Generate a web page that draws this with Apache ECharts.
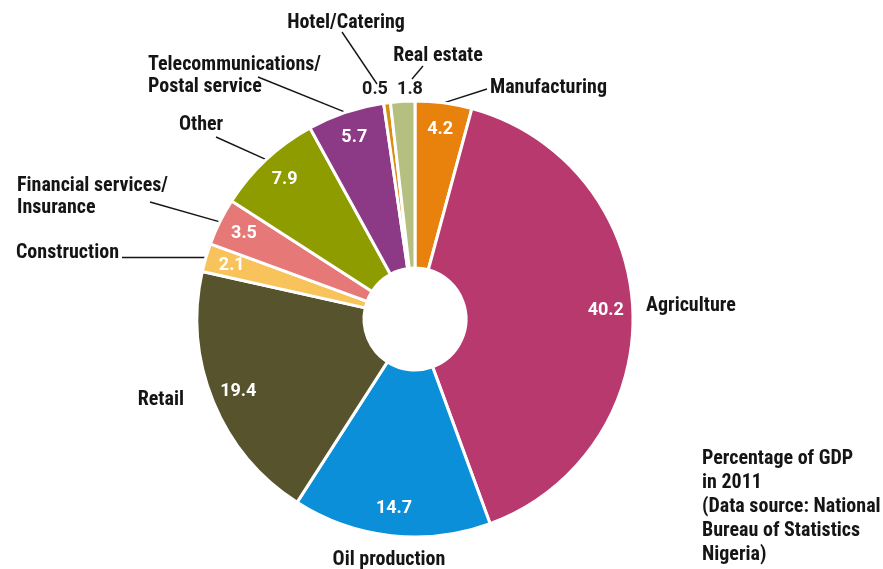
<!DOCTYPE html>
<html>
<head>
<meta charset="utf-8">
<script src="https://cdn.jsdelivr.net/npm/echarts@6/dist/echarts.min.js"></script>
<style>
  html, body { margin: 0; padding: 0; background: #fff; }
  #chart { width: 883px; height: 569px; }
</style>
</head>
<body>
<div id="chart"></div>
<script>
// 数据 —— 2011 年尼日利亚 GDP 构成（%）
const sectors = [
  'Manufacturing', 'Agriculture', 'Oil production', 'Retail', 'Construction',
  'Financial services/\nInsurance', 'Other', 'Telecommunications/\nPostal service',
  'Hotel/Catering', 'Real estate'
];
const shares = [4.2, 40.2, 14.7, 19.4, 2.1, 3.5, 7.9, 5.7, 0.5, 1.8];
const sectorColors = [
  '#e8820c', '#b8396e', '#0a8fd8', '#57532d', '#f8c35b',
  '#e67978', '#8f9c00', '#8c3a86', '#d98e12', '#b5bf7f'
];
const note = 'Percentage of GDP\nin 2011\n(Data source: National\nBureau of Statistics\nNigeria)';

// 名称标签位置：[x, y, align, 引线起点]
const nameLabelPos = [
  [490, 88, 'left', [487, 89]],
  [646, 306, 'left', null],
  [389, 560, 'center', null],
  [184, 400, 'right', null],
  [119, 253, 'right', 'h'],
  [17, 197, 'left', [150, 202]],
  [179, 125, 'left', [216, 137]],
  [148, 76, 'left', [258, 77]],
  [346, 23, 'center', [[342, 32], [377, 84]]],
  [438, 56, 'center', [[423, 66], [412, 79]]]
];
// 外侧数值标签（小扇区）
const outsideValuePos = { 8: [375, 89], 9: [410, 89] };

const NAME_FONT = '"Roboto Condensed", "Liberation Sans Narrow", Lato, sans-serif';
const VALUE_FONT = 'Roboto, "Noto Sans", sans-serif';
const CENTER = [415, 319];

const chart = echarts.init(document.getElementById('chart'));

const nameData = sectors.map((name, i) => ({
  name,
  value: shares[i],
  itemStyle: { color: sectorColors[i] },
  labelLine: { show: nameLabelPos[i][3] !== null }
}));

const valueData = sectors.map((name, i) => ({
  name,
  value: shares[i],
  label: outsideValuePos[i]
    ? { position: 'outside', color: '#1a1a1a' }
    : { position: 'inside', color: '#fff' },
  labelLine: { show: false }
}));

chart.setOption({
  backgroundColor: '#fff',
  animation: false,
  title: {
    text: note,
    left: 702,
    top: 447,
    padding: 0,
    textStyle: {
      fontFamily: NAME_FONT,
      fontSize: 20,
      fontWeight: 'bold',
      color: '#151515',
      lineHeight: 24
    }
  },
  series: [
    {
      type: 'pie',
      center: CENTER,
      radius: [51, 218],
      startAngle: 90,
      clockwise: true,
      silent: true,
      avoidLabelOverlap: false,
      itemStyle: { borderColor: '#fff', borderWidth: 3 },
      label: {
        show: true,
        position: 'outside',
        formatter: '{b}',
        fontFamily: NAME_FONT,
        fontSize: 20,
        fontWeight: 'bold',
        color: '#151515',
        lineHeight: 22
      },
      labelLine: {
        show: true,
        length: 10,
        length2: 0,
        lineStyle: { color: '#151515', width: 1.4 }
      },
      labelLayout: (params) => {
        const pos = nameLabelPos[params.dataIndex];
        const out = { x: pos[0], y: pos[1], align: pos[2], verticalAlign: 'middle' };
        const edge = params.labelLinePoints ? params.labelLinePoints[0] : null;
        if (pos[3] === 'h' && edge) {
          out.labelLinePoints = [[pos[0] + 3, edge[1]], edge];
        } else if (Array.isArray(pos[3]) && Array.isArray(pos[3][0])) {
          out.labelLinePoints = pos[3];
        } else if (Array.isArray(pos[3]) && edge) {
          out.labelLinePoints = [pos[3], edge];
        }
        return out;
      },
      data: nameData
    },
    {
      type: 'pie',
      center: CENTER,
      radius: [158, 218],
      startAngle: 90,
      clockwise: true,
      silent: true,
      avoidLabelOverlap: false,
      itemStyle: { color: 'rgba(0,0,0,0)', borderWidth: 0 },
      label: {
        show: true,
        formatter: (p) => p.value.toFixed(1),
        fontFamily: VALUE_FONT,
        fontSize: 18,
        fontWeight: 'bold'
      },
      labelLayout: (params) => {
        const pos = outsideValuePos[params.dataIndex];
        if (!pos) return {};
        return { x: pos[0], y: pos[1], align: 'center', verticalAlign: 'middle' };
      },
      data: valueData
    }
  ]
});
</script>
</body>
</html>
